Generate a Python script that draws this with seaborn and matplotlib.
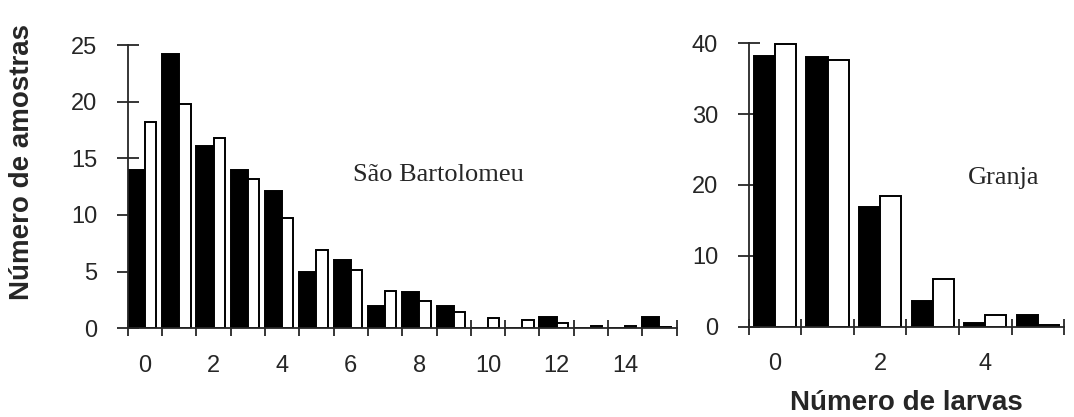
import numpy as np
import pandas as pd
import seaborn as sns
from matplotlib import pyplot as plt

# São Bartolomeu: number of larvae 0..15, two sampling series (black / white)
sb_larvas = list(range(16))
sb_preto = [14.0, 24.2, 16.1, 14.0, 12.1, 5.0, 6.0, 2.0, 3.2, 2.0, 0.0, 0.0, 1.0, 0.0, 0.0, 1.0]
sb_branco = [18.2, 19.8, 16.8, 13.2, 9.7, 6.9, 5.1, 3.3, 2.4, 1.4, 0.9, 0.7, 0.5, 0.2, 0.2, 0.1]

# Granja: number of larvae 0..5
gr_larvas = list(range(6))
gr_preto = [38.2, 38.0, 16.9, 3.6, 0.5, 1.7]
gr_branco = [39.9, 37.6, 18.4, 6.8, 1.7, 0.3]

sb_ticks = [0, 2, 4, 6, 8, 10, 12, 14]
gr_ticks = [0, 2, 4]


def longform(larvas, preto, branco):
    return pd.DataFrame({
        "larvas": larvas * 2,
        "n": preto + branco,
        "serie": ["preto"] * len(larvas) + ["branco"] * len(larvas),
    })


sns.set_style("ticks")
plt.rcParams["font.family"] = ["Liberation Sans", "DejaVu Sans"]

fig = plt.figure(figsize=(10.74, 4.17), dpi=100)
ax1 = fig.add_axes([0.119, 0.213, 0.511, 0.679])
ax2 = fig.add_axes([0.697, 0.2165, 0.294, 0.68])

pal = {"preto": "black", "branco": "white"}

sns.barplot(data=longform(sb_larvas, sb_preto, sb_branco), x="larvas", y="n",
            hue="serie", hue_order=["preto", "branco"], palette=pal,
            saturation=1, width=1.0, edgecolor="black", linewidth=1.4,
            errorbar=None, legend=False, ax=ax1)
for p in ax1.containers[1]:
    p.set_width(0.33)

sns.barplot(data=longform(gr_larvas, gr_preto, gr_branco), x="larvas", y="n",
            hue="serie", hue_order=["preto", "branco"], palette=pal,
            saturation=1, width=0.8, edgecolor="black", linewidth=1.4,
            errorbar=None, legend=False, ax=ax2)

for ax, n, ticks, ymax, ystep in [(ax1, 16, sb_ticks, 25, 5),
                                  (ax2, 6, gr_ticks, 40, 10)]:
    ax.set_xlim(-0.5, n - 0.5)
    ax.set_ylim(0, ymax)
    ax.set_xticks(ticks)
    ax.set_xticklabels([str(t) for t in ticks])
    ax.set_xticks(np.arange(n + 1) - 0.5, minor=True)
    ax.set_yticks(np.arange(0, ymax + 1, ystep))
    ax.tick_params(axis="x", which="major", length=0, pad=19, labelsize=17)
    ax.tick_params(axis="x", which="minor", direction="inout", length=12, width=1.3)
    ax.tick_params(axis="y", direction="inout", length=16, width=1.3, pad=14, labelsize=17)
    ax.set_xlabel("")
    ax.set_ylabel("")
    sns.despine(ax=ax)
    ax.spines["left"].set_linewidth(1.3)
    ax.spines["bottom"].set_linewidth(1.3)

ax1.text(8.55, 13.5, "São Bartolomeu", family="Liberation Serif", fontsize=19,
         ha="center", va="center")
ax2.text(4.34, 21.0, "Granja", family="Liberation Serif", fontsize=19,
         ha="center", va="center")

fig.text(0.0205, 0.611, "Número de amostras", rotation=90, fontsize=20,
         fontweight="bold", ha="center", va="center")
fig.text(0.8436, 0.033, "Número de larvas", fontsize=20, fontweight="bold",
         ha="center", va="center")

plt.savefig("out.png", dpi=100)
